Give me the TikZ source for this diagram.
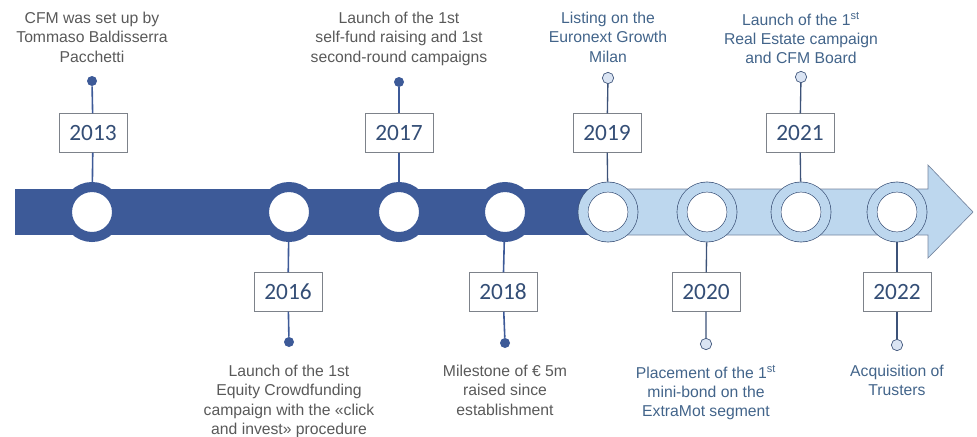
\documentclass[tikz,border=0pt]{standalone}
\usepackage{fontspec}
\setmainfont{Liberation Sans}
\newfontfamily\yearfont{Carlito}
\usepackage{xcolor}
\usetikzlibrary{positioning}

\definecolor{cfmdark}{RGB}{61,90,152}
\definecolor{cfmlight}{RGB}{189,215,238}
\definecolor{cfmpale}{RGB}{218,228,243}
\definecolor{cfmnavy}{RGB}{60,82,120}
\definecolor{boxgray}{RGB}{125,130,138}
\definecolor{yeartext}{RGB}{52,78,118}
\definecolor{textgray}{RGB}{89,89,89}
\definecolor{textblue}{RGB}{66,100,138}

\begin{document}
\begin{tikzpicture}[
  x=0.75pt, y=-0.75pt,
  ring/.style={circle, draw=cfmdark, line width=7.5pt, fill=white,
               minimum size=37.5pt, inner sep=0pt},
  lightring/.style={circle, draw=cfmnavy, line width=0.5pt, double=cfmlight,
                    double distance=7pt, fill=white, minimum size=37.5pt,
                    inner sep=0pt, outer sep=4pt},
  year/.style={draw=boxgray, line width=0.6pt, fill=white,
               minimum width=51pt, minimum height=29pt, inner sep=0pt,
               font=\yearfont\fontsize{17.5}{20}\selectfont, text=yeartext},
  dot/.style={circle, fill=cfmdark, minimum size=7.5pt, inner sep=0pt},
  lightdot/.style={circle, draw=cfmnavy, line width=0.5pt, fill=cfmpale,
                   minimum size=8.5pt, inner sep=0pt},
  event/.style={align=center, inner sep=0pt, anchor=north,
                font=\fontsize{11.8}{14.4}\selectfont, text=textgray},
  lightevent/.style={event, text=textblue},
  stem/.style={line width=1.2pt, draw=cfmdark},
  lightstem/.style={line width=1pt, draw=cfmnavy}
]
  \useasboundingbox (0,0) rectangle (977,436);

  % timeline bar and arrow
  \fill[cfmlight, draw=cfmnavy!70, line width=0.5pt]
    (590,189) -- (928,189) -- (928,165) -- (973,212) -- (928,258)
    -- (928,235) -- (590,235) -- cycle;
  \fill[cfmdark] (15,189) rectangle (596,235);

  \node[ring] (r2013) at (92,212) {};
  \node[ring] (r2016) at (289,212) {};
  \node[ring] (r2017) at (399,212) {};
  \node[ring] (r2018) at (505,212) {};
  \node[lightring] (r2019) at (608,212) {};
  \node[lightring] (r2020) at (707,212) {};
  \node[lightring] (r2021) at (801,212) {};
  \node[lightring] (r2022) at (897,212) {};

  \node[year] (y2013) at (93,133) {2013};
  \node[year] (y2016) at (288,292) {2016};
  \node[year] (y2017) at (399,133) {2017};
  \node[year] (y2018) at (503,292) {2018};
  \node[year] (y2019) at (607,133) {2019};
  \node[year] (y2020) at (706,292) {2020};
  \node[year] (y2021) at (800,133) {2021};
  \node[year] (y2022) at (897,292) {2022};

  \node[dot] (d2013) at (92,81) {};
  \node[dot] (d2016) at (289,342) {};
  \node[dot] (d2017) at (399,82) {};
  \node[dot] (d2018) at (505,343) {};
  \node[lightdot] (d2019) at (608,78) {};
  \node[lightdot] (d2020) at (706,344) {};
  \node[lightdot] (d2021) at (801,77) {};
  \node[lightdot] (d2022) at (897,345) {};

  \node[event] (t2013) at (92,12) {CFM was set up by\\Tommaso Baldisserra\\Pacchetti};
  \node[event] (t2016) at (289,365) {Launch of the 1st\\Equity Crowdfunding\\campaign with the «click\\and invest» procedure};
  \node[event] (t2017) at (399,12) {Launch of the 1st\\self-fund raising and 1st\\second-round campaigns};
  \node[event] (t2018) at (505,365) {Milestone of € 5m\\raised since\\establishment};
  \node[lightevent] (t2019) at (608,12) {Listing on the\\Euronext Growth\\Milan};
  \node[lightevent] (t2020) at (706,365) {Placement of the 1\textsuperscript{st}\\mini-bond on the\\ExtraMot segment};
  \node[lightevent] (t2021) at (801,12) {Launch of the 1\textsuperscript{st}\\Real Estate campaign\\and CFM Board};
  \node[lightevent] (t2022) at (897,365) {Acquisition of\\Trusters};

  \draw[stem] (d2013) -- (y2013) (y2013) -- (r2013);
  \draw[stem] (r2016) -- (y2016) (y2016) -- (d2016);
  \draw[stem] (d2017) -- (y2017) (y2017) -- (r2017);
  \draw[stem] (r2018) -- (y2018) (y2018) -- (d2018);
  \draw[lightstem] (d2019) -- (y2019) (y2019) -- (r2019);
  \draw[lightstem] (r2020) -- (y2020) (y2020) -- (d2020);
  \draw[lightstem] (d2021) -- (y2021) (y2021) -- (r2021);
  \draw[lightstem] (r2022) -- (y2022) (y2022) -- (d2022);
\end{tikzpicture}
\end{document}
